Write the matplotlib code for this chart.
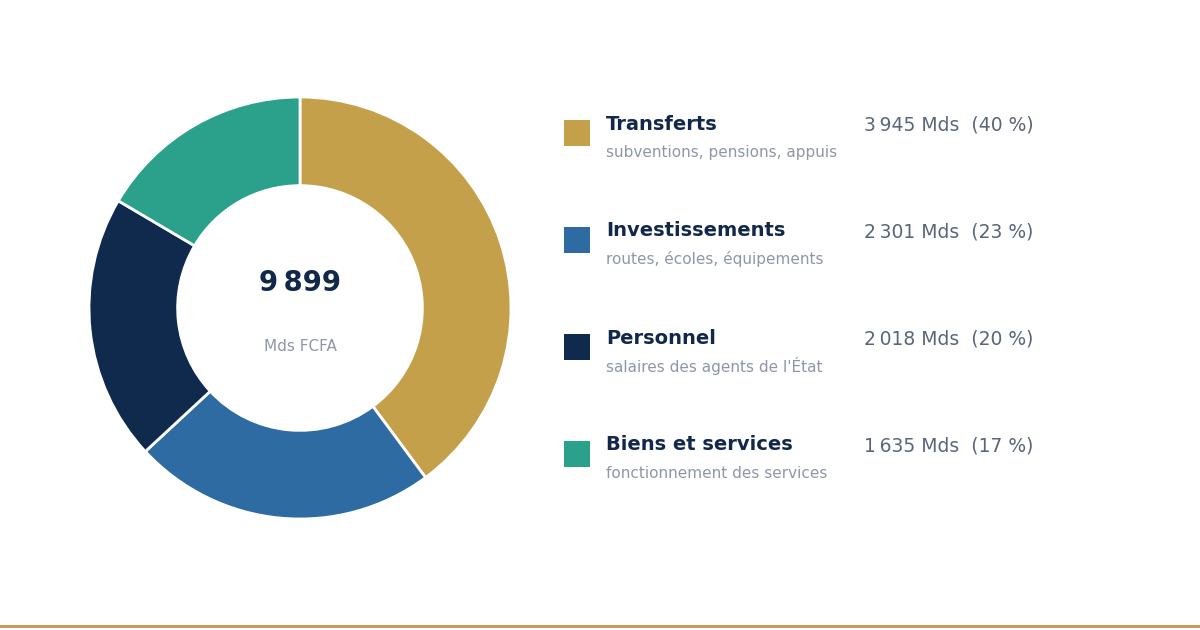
import matplotlib
matplotlib.use("Agg")
import matplotlib.pyplot as plt
from matplotlib.patches import Rectangle
from matplotlib.lines import Line2D

# data
categories = ["Transferts", "Investissements", "Personnel", "Biens et services"]
details = ["subventions, pensions, appuis", "routes, écoles, équipements",
           "salaires des agents de l'État", "fonctionnement des services"]
amounts = [3945, 2301, 2018, 1635]
shares = [40, 23, 20, 17]
colors = ["#C4A04B", "#2D6BA2", "#0F2A4D", "#2BA08A"]
total_label = "9\u202f899"
unit_label = "Mds FCFA"

W, H = 1200, 630
fig = plt.figure(figsize=(W / 100, H / 100), dpi=100)
fig.patch.set_facecolor("white")


def fx(px):
    return px / W


def fy(py):
    return 1 - py / H


# donut
cx, cy, r = 300, 308, 211
ax = fig.add_axes([fx(cx - r), fy(cy + r), 2 * r / W, 2 * r / H])
ax.pie(amounts, colors=colors, startangle=90, counterclock=False, radius=1,
       wedgeprops=dict(width=0.42, edgecolor="white", linewidth=2))
ax.set_xlim(-1, 1)
ax.set_ylim(-1, 1)
ax.set_aspect("equal")
ax.axis("off")

fig.text(fx(cx), fy(283), total_label, ha="center", va="center",
         fontsize=19.8, fontweight="bold", color="#12284A")
fig.text(fx(cx), fy(346), unit_label, ha="center", va="center",
         fontsize=11, color="#8E96A8")


def fmt(v):
    s = f"{v:,}".replace(",", "\u202f")
    return s


# legend
y0, step = 133, 107
for i, (cat, det, amt, pct, col) in enumerate(zip(categories, details, amounts, shares, colors)):
    yc = y0 + i * step
    fig.add_artist(Rectangle((fx(564), fy(yc + 13)), 26 / W, 26 / H,
                             transform=fig.transFigure, facecolor=col, edgecolor="none"))
    fig.text(fx(606), fy(yc - 9), cat, ha="left", va="center",
             fontsize=14, fontweight="bold", color="#12284A")
    fig.text(fx(606), fy(yc + 19), det, ha="left", va="center",
             fontsize=11, color="#8E96A8")
    fig.text(fx(864), fy(yc - 8), f"{fmt(amt)} Mds  ({pct} %)", ha="left", va="center",
             fontsize=13.5, color="#5A6678")

# bottom rule
fig.add_artist(Line2D([0, 1], [fy(626), fy(626)], transform=fig.transFigure,
                      color="#C49F5A", linewidth=2.2))

fig.savefig("out.png", dpi=100, facecolor="white")
